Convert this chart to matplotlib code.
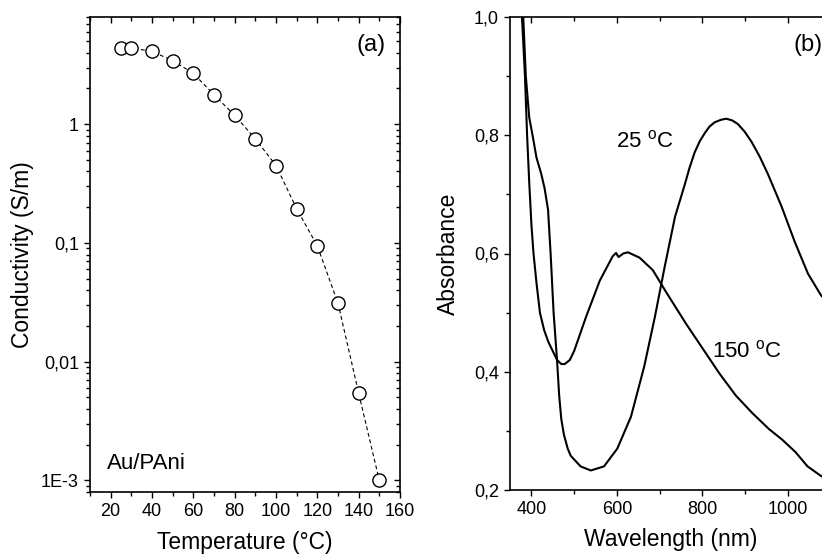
import matplotlib
matplotlib.use("Agg")
import matplotlib.pyplot as plt
from matplotlib.ticker import FixedLocator, MultipleLocator, LogLocator, NullFormatter

plt.rcParams["font.family"] = ["Liberation Sans", "DejaVu Sans"]
plt.rcParams["mathtext.fontset"] = "custom"
plt.rcParams["mathtext.rm"] = "Liberation Sans"

# (a) conductivity vs temperature
temp_c = [25, 30, 40, 50, 60, 70, 80, 90, 100, 110, 120, 130, 140, 150]
conductivity = [4.4, 4.4, 4.1, 3.44, 2.68, 1.77, 1.19, 0.753, 0.449, 0.194,
                0.0946, 0.0311, 0.00544, 0.001]
cond_ticks = [1e-3, 1e-2, 1e-1, 1]
cond_labels = ["1E-3", "0,01", "0,1", "1"]

# (b) absorbance spectra
wl_25 = [372, 381, 387, 395, 404, 412, 423, 431, 439, 445, 452, 460, 465, 470,
         476, 485, 492, 515, 539, 570, 601, 633, 664, 689, 712, 736, 759, 770,
         782, 794, 806, 817, 829, 843, 856, 870, 883, 899, 915, 934, 953, 985,
         1016, 1047, 1077, 1100]
abs_25 = [1.1, 1.0, 0.9, 0.83, 0.795, 0.762, 0.735, 0.71, 0.674, 0.6, 0.5, 0.42,
          0.36, 0.32, 0.294, 0.27, 0.258, 0.24, 0.233, 0.24, 0.27, 0.324, 0.409,
          0.493, 0.578, 0.662, 0.717, 0.745, 0.771, 0.79, 0.804, 0.815, 0.822,
          0.826, 0.828, 0.825, 0.819, 0.806, 0.789, 0.764, 0.735, 0.68, 0.62,
          0.566, 0.53, 0.51]
wl_150 = [372, 378, 385, 390, 395, 400, 405, 412, 420, 430, 440, 450, 460, 470,
          478, 490, 500, 528, 560, 590, 598, 604, 615, 626, 653, 684, 715, 762,
          801, 840, 878, 917, 956, 987, 1018, 1046, 1077, 1100]
abs_150 = [1.1, 1.0, 0.9, 0.8, 0.72, 0.65, 0.6, 0.55, 0.5, 0.47, 0.45, 0.435,
           0.42, 0.413, 0.413, 0.42, 0.435, 0.493, 0.554, 0.595, 0.601, 0.594,
           0.6, 0.602, 0.593, 0.572, 0.535, 0.481, 0.439, 0.397, 0.36, 0.33,
           0.303, 0.285, 0.264, 0.24, 0.224, 0.215]
abs_ticks = [0.2, 0.4, 0.6, 0.8, 1.0]
abs_labels = ["0,2", "0,4", "0,6", "0,8", "1,0"]
wl_ticks = [400, 600, 800, 1000]

W, H = 822, 558
fig = plt.figure(figsize=(W / 100, H / 100), dpi=100)


def box(l, r, t, b):
    return [l / W, 1 - b / H, (r - l) / W, (b - t) / H]


def add_panel(rect):
    ax = fig.add_axes(rect)
    # overlay sharing both axes: carries the inward ticks on top and right
    mirror = fig.add_axes(rect, sharex=ax, sharey=ax, frameon=False)
    ax.tick_params(which="both", direction="out", top=False, right=False,
                   labelsize=13, width=1)
    ax.tick_params(which="major", length=4.5)
    ax.tick_params(which="minor", length=3)
    mirror.tick_params(which="both", direction="in", left=False, bottom=False,
                       top=True, right=True, labelleft=False,
                       labelbottom=False, width=1)
    mirror.tick_params(which="major", length=4.5)
    mirror.tick_params(which="minor", length=3)
    for s in ax.spines.values():
        s.set_linewidth(1.2)
    return ax


# ---- panel (a)
ax1 = add_panel(box(90, 400, 17, 492))
ax1.plot(temp_c, conductivity, color="black", lw=0.8, ls=(0, (3.5, 2.5)),
         marker="o", ms=9.5, mfc="white", mec="black", mew=1.0)
ax1.set_yscale("log")
ax1.set_xlim(10, 160)
ax1.set_ylim(8e-4, 8)
ax1.xaxis.set_major_locator(MultipleLocator(20))
ax1.xaxis.set_minor_locator(MultipleLocator(10))
ax1.yaxis.set_major_locator(FixedLocator(cond_ticks))
ax1.set_yticklabels(cond_labels)
ax1.yaxis.set_minor_locator(LogLocator(base=10, subs=range(2, 10)))
ax1.yaxis.set_minor_formatter(NullFormatter())
ax1.set_xlabel("Temperature (°C)", fontsize=16.5, labelpad=8)
ax1.set_ylabel("Conductivity (S/m)", fontsize=16.5, labelpad=5)
ax1.text(0.955, 0.965, "(a)", transform=ax1.transAxes, ha="right", va="top",
         fontsize=17)
ax1.text(0.055, 0.06, "Au/PAni", transform=ax1.transAxes, ha="left",
         va="center", fontsize=16)

# ---- panel (b)
ax2 = add_panel(box(510, 830.6, 17, 490))
ax2.plot(wl_25, abs_25, color="black", lw=1.5)
ax2.plot(wl_150, abs_150, color="black", lw=1.5)
ax2.set_xlim(350, 1100)
ax2.set_ylim(0.2, 1.0)
ax2.xaxis.set_major_locator(FixedLocator(wl_ticks))
ax2.xaxis.set_minor_locator(MultipleLocator(100))
ax2.yaxis.set_major_locator(FixedLocator(abs_ticks))
ax2.set_yticklabels(abs_labels)
ax2.yaxis.set_minor_locator(MultipleLocator(0.1))
ax2.set_xlabel("Wavelength (nm)", fontsize=16.5, labelpad=7)
ax2.set_ylabel("Absorbance", fontsize=16.5, labelpad=10)
ax2.text(0.93, 0.965, "(b)", transform=ax2.transAxes, ha="center", va="top",
         fontsize=17)
ax2.text(665, 0.79, r"25 $^{\mathrm{o}}$C", ha="center", va="center",
         fontsize=16)
ax2.text(904, 0.435, r"150 $^{\mathrm{o}}$C", ha="center", va="center",
         fontsize=16)

fig.savefig("out.png", dpi=100)
